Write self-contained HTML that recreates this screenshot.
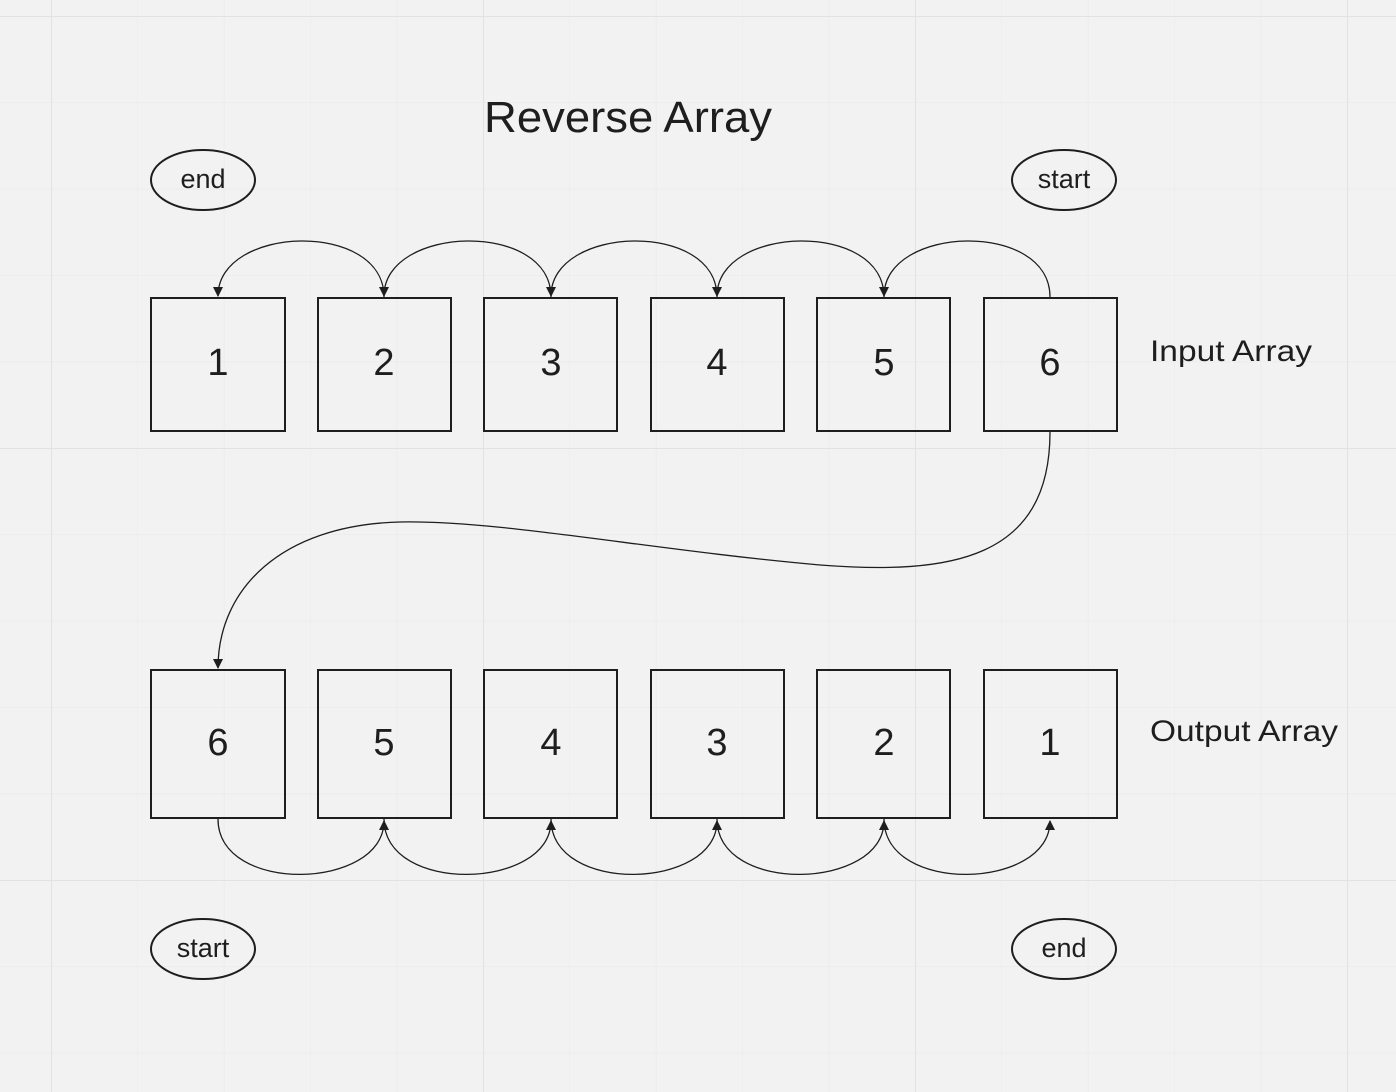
<!DOCTYPE html>
<html><head><style>
html,body{margin:0;padding:0;background:#f2f2f2;}
svg{display:block;}
text{font-family:"Liberation Sans",sans-serif;fill:#1e1e1e;}
</style></head><body>
<svg width="1396" height="1092" viewBox="0 0 1396 1092" xmlns="http://www.w3.org/2000/svg">
<defs>
<pattern id="minor" x="51" y="16" width="86.4" height="86.4" patternUnits="userSpaceOnUse">
<path d="M0 0V86.4M0 0H86.4" stroke="#e9e9e9" stroke-width="1.2" fill="none"/>
</pattern>
<pattern id="major" x="51" y="16" width="432" height="432" patternUnits="userSpaceOnUse">
<path d="M0 0V432M0 0H432" stroke="#e2e2e2" stroke-width="2" fill="none"/>
</pattern>
<marker id="ah" markerWidth="10" markerHeight="12" refX="9" refY="5" orient="auto" markerUnits="userSpaceOnUse">
<path d="M0 0L10 5L0 10z" fill="#1e1e1e"/>
</marker>
</defs>
<rect width="1396" height="1092" fill="#f2f2f2"/>
<rect width="1396" height="1092" fill="url(#minor)"/>
<rect width="1396" height="1092" fill="url(#major)"/>

<text x="484" y="132" font-size="44" textLength="288" lengthAdjust="spacingAndGlyphs">Reverse Array</text>

<g fill="none" stroke="#1e1e1e" stroke-width="2">
<ellipse cx="203" cy="180" rx="52" ry="30"/>
<ellipse cx="1064" cy="180" rx="52" ry="30"/>
<ellipse cx="203" cy="949" rx="52" ry="30"/>
<ellipse cx="1064" cy="949" rx="52" ry="30"/>
<rect x="151" y="298" width="134" height="133"/>
<rect x="318" y="298" width="133" height="133"/>
<rect x="484" y="298" width="133" height="133"/>
<rect x="651" y="298" width="133" height="133"/>
<rect x="817" y="298" width="133" height="133"/>
<rect x="984" y="298" width="133" height="133"/>
<rect x="151" y="670" width="134" height="148"/>
<rect x="318" y="670" width="133" height="148"/>
<rect x="484" y="670" width="133" height="148"/>
<rect x="651" y="670" width="133" height="148"/>
<rect x="817" y="670" width="133" height="148"/>
<rect x="984" y="670" width="133" height="148"/>
</g>

<g fill="none" stroke="#1e1e1e" stroke-width="1.3" marker-end="url(#ah)">
<path d="M1050 297 C1050 220 884 225 884 296"/>
<path d="M884 297 C884 220 717 225 717 296"/>
<path d="M717 297 C717 220 551 225 551 296"/>
<path d="M551 297 C551 220 384 225 384 296"/>
<path d="M384 297 C384 220 218 225 218 296"/>
<path d="M1050 432 C1050 560 950 575 820 565 C650 550 500 520 400 522 C280 525 218 590 218 668"/>
<path d="M218 819 C218 895 384 890 384 821"/>
<path d="M384 819 C384 895 551 890 551 821"/>
<path d="M551 819 C551 895 717 890 717 821"/>
<path d="M717 819 C717 895 884 890 884 821"/>
<path d="M884 819 C884 895 1050 890 1050 821"/>
</g>

<g font-size="27" text-anchor="middle">
<text x="203" y="188">end</text>
<text x="1064" y="188">start</text>
<text x="203" y="957">start</text>
<text x="1064" y="957">end</text>
</g>
<g font-size="38" text-anchor="middle">
<text x="218" y="375">1</text>
<text x="384" y="375">2</text>
<text x="551" y="375">3</text>
<text x="717" y="375">4</text>
<text x="884" y="375">5</text>
<text x="1050" y="375">6</text>
<text x="218" y="755">6</text>
<text x="384" y="755">5</text>
<text x="551" y="755">4</text>
<text x="717" y="755">3</text>
<text x="884" y="755">2</text>
<text x="1050" y="755">1</text>
</g>
<text x="1150" y="361" font-size="30" textLength="162" lengthAdjust="spacingAndGlyphs">Input Array</text>
<text x="1150" y="741" font-size="30" textLength="188" lengthAdjust="spacingAndGlyphs">Output Array</text>
</svg>
</body></html>
